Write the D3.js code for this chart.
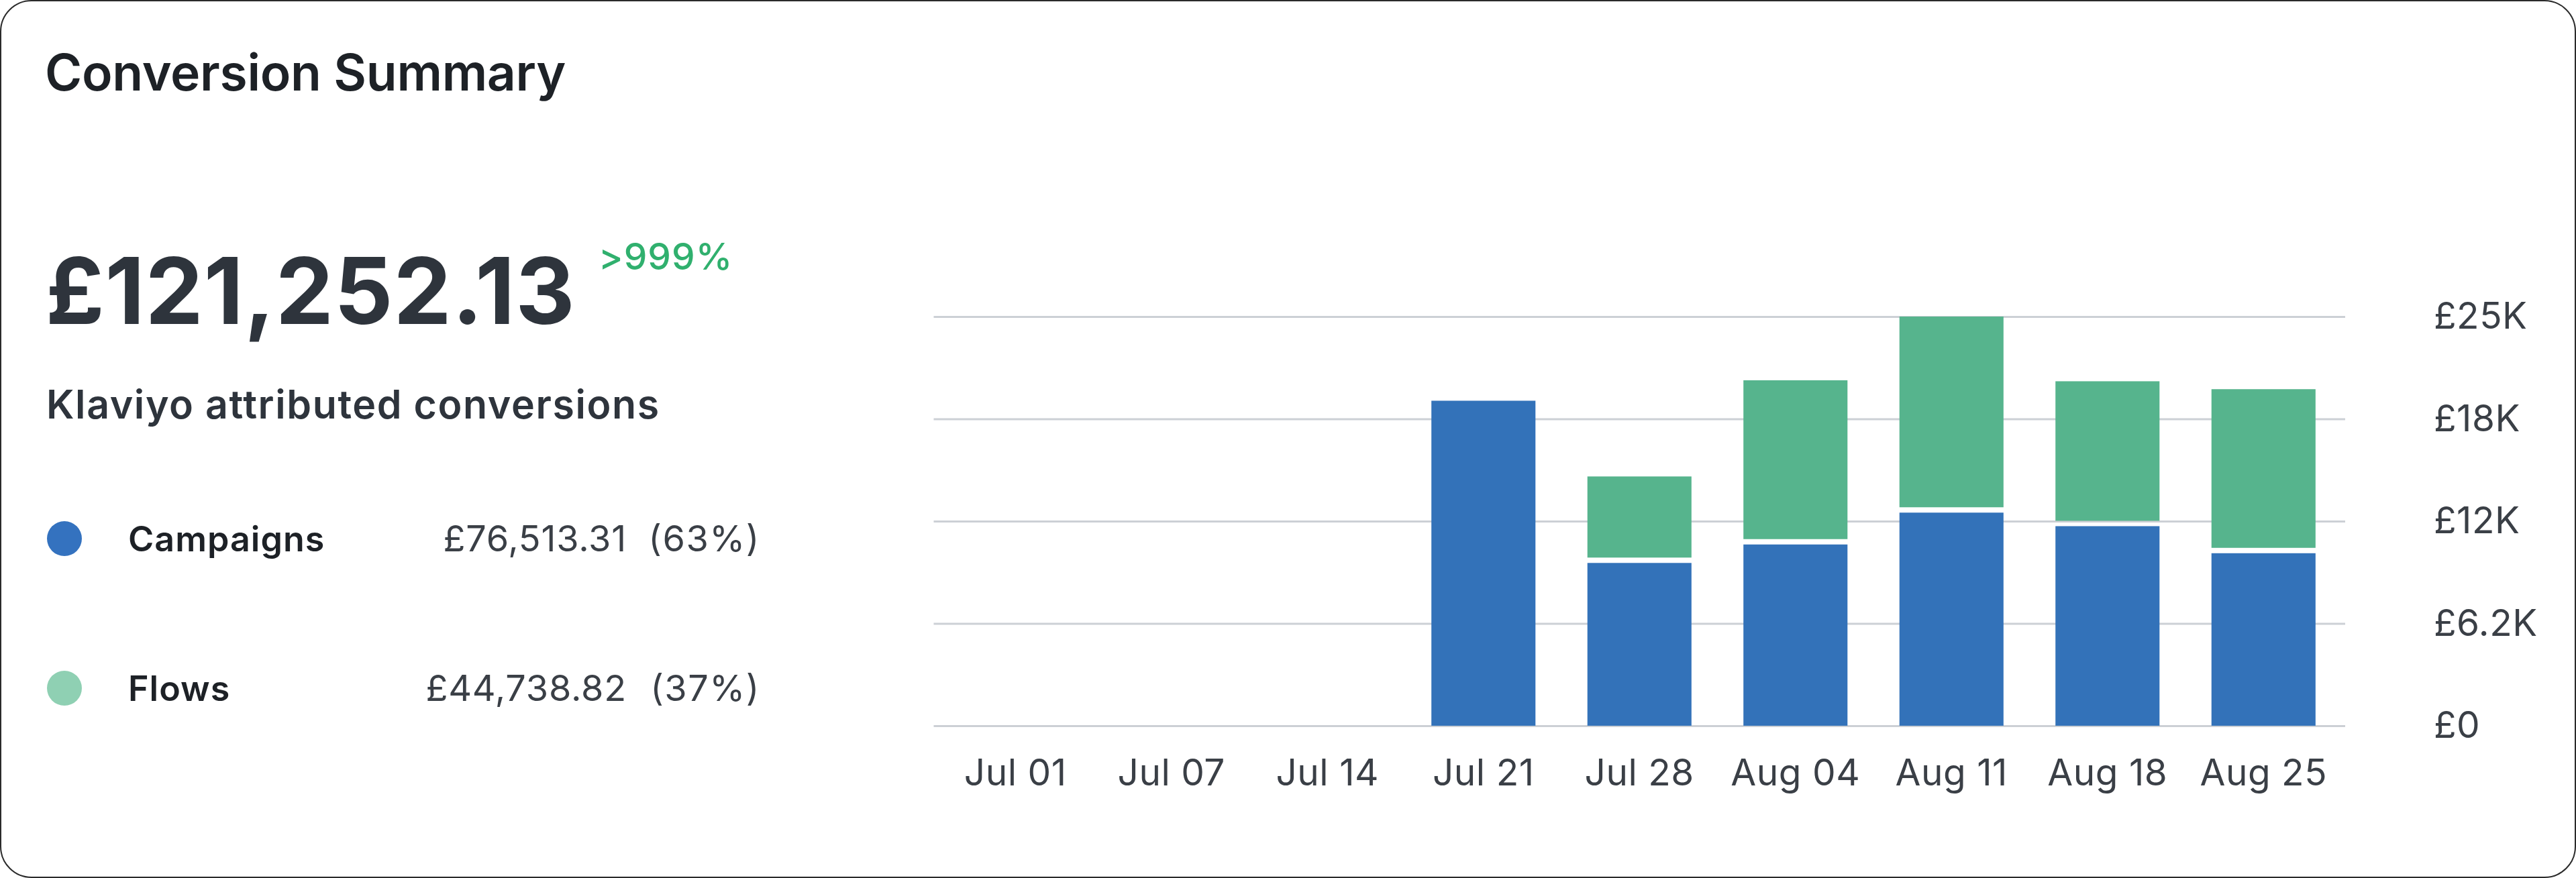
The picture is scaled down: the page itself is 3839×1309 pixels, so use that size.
<!DOCTYPE html>
<html><head><meta charset="utf-8">
<script src="https://cdn.jsdelivr.net/npm/d3@7"></script>
<style>
body{margin:0;background:#fff;}
svg{display:block;font-family:Inter,"Noto Sans",sans-serif;}
</style>
</head><body><svg id="c" width="3839" height="1309"></svg>
<script>
const categories = ["Jul 01","Jul 07","Jul 14","Jul 21","Jul 28","Aug 04","Aug 11","Aug 18","Aug 25"];
const campaigns = [0,0,0,19700,10030,11150,13080,12260,10620];
const flows = [0,0,0,0,5080,9790,11720,8620,9780];
const yTickValues = [0,6200,12400,18600,24800];
const yTickLabels = ["£0","£6.2K","£12K","£18K","£25K"];
const seriesNames = ["Campaigns","Flows"];
const seriesTotals = ["£76,513.31","£44,738.82"];
const seriesShares = ["(63%)","(37%)"];
const seriesColors = ["#3372b9","#56b48d"];
const legendColors = ["#3472bf","#8fd0b3"];
const titleText = "Conversion Summary";
const totalValue = "£121,252.13";
const changeLabel = ">999%";
const subtitleText = "Klaviyo attributed conversions";

const svg = d3.select("#c");
const W = 3839, H = 1309;

// card
svg.append("rect").attr("x",1).attr("y",1).attr("width",W-2).attr("height",H-2)
  .attr("rx",46).attr("ry",46).attr("fill","#fff").attr("stroke","#2a2a2a").attr("stroke-width",2);

// left panel
svg.append("text").attr("x",67).attr("y",135).text(titleText)
  .attr("font-size",75).attr("font-weight",600).attr("fill","#1d2126").attr("letter-spacing",-0.3);
svg.append("text").attr("x",68).attr("y",483).text(totalValue)
  .attr("font-size",137).attr("font-weight",700).attr("fill","#2e343c").attr("letter-spacing",1);
svg.append("text").attr("x",892).attr("y",402).text(changeLabel)
  .attr("font-size",55).attr("font-weight",500).attr("fill","#30b06e").attr("letter-spacing",1);
svg.append("text").attr("x",69).attr("y",624).text(subtitleText)
  .attr("font-size",59).attr("font-weight",600).attr("fill","#2e343c").attr("letter-spacing",1.6);

const legendY = d3.scalePoint().domain(seriesNames).range([803,1026]);
const lg = svg.append("g").selectAll("g").data(seriesNames).join("g")
  .attr("transform",d=>`translate(0,${legendY(d)})`);
lg.append("circle").attr("cx",96).attr("cy",0).attr("r",26).attr("fill",(d,i)=>legendColors[i]);
lg.append("text").attr("x",191).attr("y",19).text(d=>d)
  .attr("font-size",52).attr("font-weight",600).attr("fill","#1d2126").attr("letter-spacing",1);
lg.append("text").attr("x",934).attr("y",19).attr("text-anchor","end").text((d,i)=>seriesTotals[i])
  .attr("font-size",54).attr("font-weight",400).attr("fill","#3a3f46").attr("letter-spacing",0.8);
lg.append("text").attr("x",1133).attr("y",19).attr("text-anchor","end").text((d,i)=>seriesShares[i])
  .attr("font-size",54).attr("font-weight",400).attr("fill","#3a3f46").attr("letter-spacing",1.5);

// chart
const x0 = 1391.5, x1 = 3495, yBase = 1082, yTop = 472;
const x = d3.scaleBand().domain(categories).range([x0,x1]).paddingInner(0.333).paddingOuter(0.19);
const y = d3.scaleLinear().domain([0, yTickValues[yTickValues.length-1]]).range([yBase,yTop]);

// gridlines
const grid = svg.append("g").attr("transform",`translate(${x1},0)`)
  .call(d3.axisLeft(y).tickValues(yTickValues).tickSize(x1-x0).tickFormat(""));
grid.select(".domain").remove();
grid.selectAll("line").attr("stroke","#ccd0d5").attr("stroke-width",3);

// bars
const data = categories.map((c,i)=>({c, camp:campaigns[i], flow:flows[i]}));
const gap = 4;
const bars = svg.append("g");
bars.selectAll("rect.camp").data(data.filter(d=>d.camp>0)).join("rect").attr("class","camp")
  .attr("x",d=>x(d.c)).attr("width",x.bandwidth())
  .attr("y",d=>y(d.camp)+(d.flow>0?gap:0))
  .attr("height",d=>yBase - y(d.camp) - (d.flow>0?gap:0))
  .attr("fill",seriesColors[0]);
bars.selectAll("rect.flow").data(data.filter(d=>d.flow>0)).join("rect").attr("class","flow")
  .attr("x",d=>x(d.c)).attr("width",x.bandwidth())
  .attr("y",d=>y(d.camp+d.flow))
  .attr("height",d=>y(d.camp) - y(d.camp+d.flow) - gap)
  .attr("fill",seriesColors[1]);

// x axis
const xa = svg.append("g").attr("transform",`translate(0,${yBase})`)
  .call(d3.axisBottom(x).tickSize(0).tickPadding(50));
xa.select(".domain").remove();
xa.selectAll("text").attr("font-size",55).attr("font-family","Inter, sans-serif").attr("fill","#3a3f46").attr("letter-spacing",0.5);

// y axis labels
const ya = svg.append("g").attr("transform",`translate(3627,0)`)
  .call(d3.axisRight(y).tickValues(yTickValues).tickSize(0).tickPadding(0)
    .tickFormat((d,i)=>yTickLabels[i]));
ya.select(".domain").remove();
ya.selectAll("text").attr("font-size",55).attr("font-family","Inter, sans-serif").attr("fill","#3a3f46").attr("letter-spacing",0.5);
</script>
</body></html>
